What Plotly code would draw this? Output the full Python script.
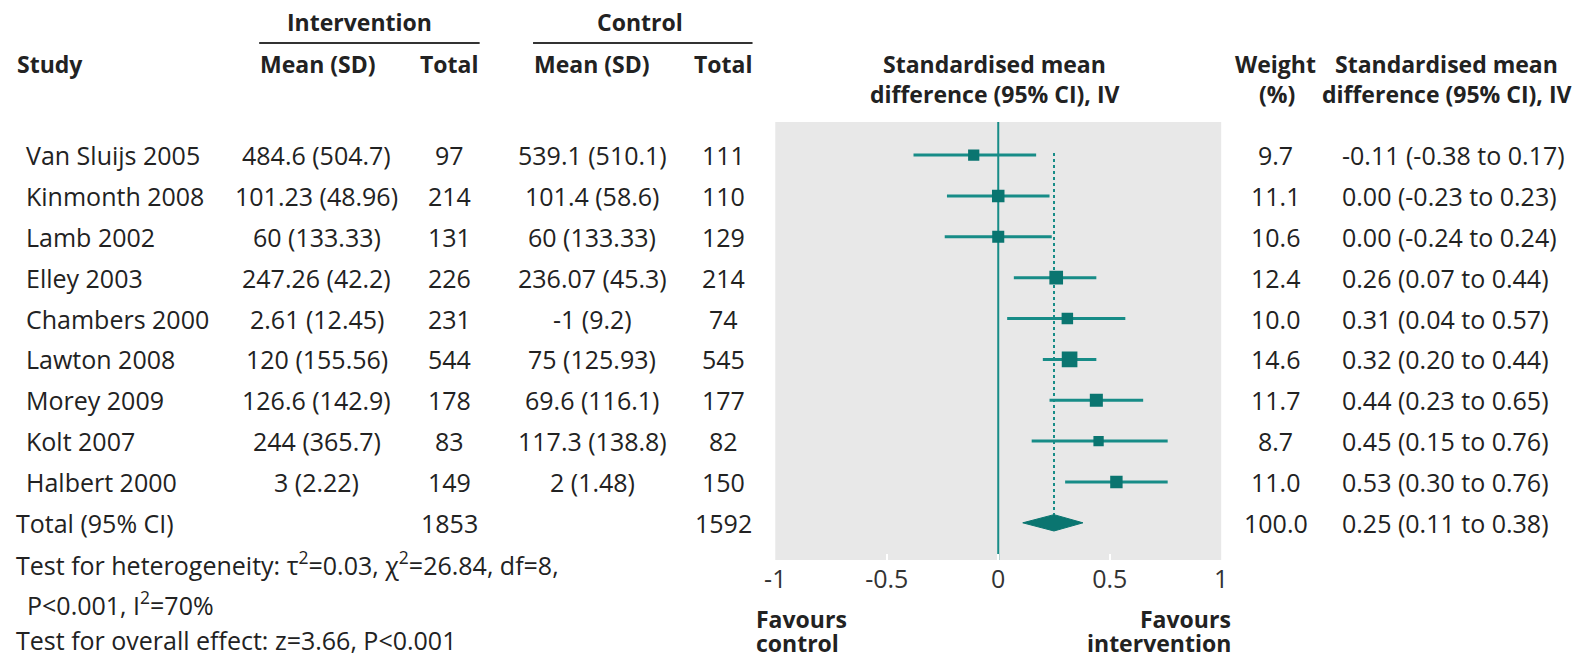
import plotly.graph_objects as go

W, H = 1596, 658

studies = ["Van Sluijs 2005", "Kinmonth 2008", "Lamb 2002", "Elley 2003", "Chambers 2000",
           "Lawton 2008", "Morey 2009", "Kolt 2007", "Halbert 2000"]
int_mean_sd = ["484.6 (504.7)", "101.23 (48.96)", "60 (133.33)", "247.26 (42.2)", "2.61 (12.45)",
               "120 (155.56)", "126.6 (142.9)", "244 (365.7)", "3 (2.22)"]
int_total = [97, 214, 131, 226, 231, 544, 178, 83, 149]
ctl_mean_sd = ["539.1 (510.1)", "101.4 (58.6)", "60 (133.33)", "236.07 (45.3)", "-1 (9.2)",
               "75 (125.93)", "69.6 (116.1)", "117.3 (138.8)", "2 (1.48)"]
ctl_total = [111, 110, 129, 214, 74, 545, 177, 82, 150]
weights = [9.7, 11.1, 10.6, 12.4, 10.0, 14.6, 11.7, 8.7, 11.0]
smd = [-0.11, 0.00, 0.00, 0.26, 0.31, 0.32, 0.44, 0.45, 0.53]
ci_low = [-0.38, -0.23, -0.24, 0.07, 0.04, 0.20, 0.23, 0.15, 0.30]
ci_high = [0.17, 0.23, 0.24, 0.44, 0.57, 0.44, 0.65, 0.76, 0.76]

total_int = 1853
total_ctl = 1592
total_weight = 100.0
pooled = 0.25
pooled_low = 0.11
pooled_high = 0.38

x_ticks = [-1, -0.5, 0, 0.5, 1]
x_tick_labels = ["-1", "-0.5", "0", "0.5", "1"]

TEAL = "#178c87"
TEAL_DARK = "#0a7570"
TXT = "#222222"
FONT = "Open Sans"
FS = 25
FSB = 23

rows = list(range(1, len(studies) + 1))
total_row = len(studies) + 1

fig = go.Figure()

# zero line
fig.add_trace(go.Scatter(x=[0, 0], y=[0.19, 10.91], mode="lines",
                         line=dict(color=TEAL, width=2), hoverinfo="skip", showlegend=False))
# pooled dashed line
fig.add_trace(go.Scatter(x=[pooled, pooled], y=[0.95, total_row - 0.2], mode="lines",
                         line=dict(color=TEAL, width=2, dash="dot"), hoverinfo="skip", showlegend=False))
# study estimates
fig.add_trace(go.Scatter(
    x=smd, y=rows, mode="markers",
    marker=dict(symbol="square", color=TEAL_DARK, opacity=1, size=[w * 0.9 + 2.5 for w in weights],
                line=dict(width=0)),
    error_x=dict(type="data", symmetric=False,
                 array=[h - m for h, m in zip(ci_high, smd)],
                 arrayminus=[m - l for m, l in zip(smd, ci_low)],
                 color=TEAL, thickness=3, width=0),
    showlegend=False))
# pooled diamond
fig.add_trace(go.Scatter(
    x=[pooled_low, pooled, pooled_high, pooled, pooled_low],
    y=[total_row, total_row - 0.2, total_row, total_row + 0.2, total_row],
    mode="lines", fill="toself", fillcolor=TEAL_DARK, line=dict(color=TEAL_DARK, width=1),
    showlegend=False))

ann = []


def px(x):
    return x / W


def py(y):
    return 1 - y / H


def txt(text, x, y, xanchor="center", bold=False, yref="paper", size=FS, color=TXT):
    ann.append(dict(text=f"<b>{text}</b>" if bold else text, x=px(x), xref="paper",
                    y=py(y) if yref == "paper" else y, yref=yref,
                    xanchor=xanchor, yanchor="middle", showarrow=False,
                    font=dict(family=FONT, size=size, color=color)))


# headers
txt("Intervention", 352, 22, bold=True, size=FSB)
txt("Control", 636, 22, bold=True, size=FSB)
txt("Study", 4, 64, xanchor="left", bold=True, size=FSB)
txt("Mean (SD)", 310, 64, bold=True, size=FSB)
txt("Total", 443, 64, bold=True, size=FSB)
txt("Mean (SD)", 588, 64, bold=True, size=FSB)
txt("Total", 720, 64, bold=True, size=FSB)
txt("Standardised mean", 995, 64, bold=True, size=FSB)
txt("difference (95% CI), IV", 995, 94, bold=True, size=FSB)
txt("Weight", 1279, 64, bold=True, size=FSB)
txt("(%)", 1280, 94, bold=True, size=FSB)
txt("Standardised mean", 1452, 64, bold=True, size=FSB)
txt("difference (95% CI), IV", 1452, 94, bold=True, size=FSB)

# rows
for i, r in enumerate(rows):
    txt(studies[i], 13, r, xanchor="left", yref="y")
    txt(int_mean_sd[i], 309, r, yref="y")
    txt(str(int_total[i]), 444, r, yref="y")
    txt(ctl_mean_sd[i], 588, r, yref="y")
    txt(str(ctl_total[i]), 721, r, yref="y")
    txt(f"{weights[i]:.1f}", 1279, r, yref="y")
    txt(f"{smd[i]:.2f} ({ci_low[i]:.2f} to {ci_high[i]:.2f})", 1344, r, xanchor="left", yref="y")

txt("Total (95% CI)", 3, total_row, xanchor="left", yref="y")
txt(str(total_int), 444, total_row, yref="y")
txt(str(total_ctl), 721, total_row, yref="y")
txt(f"{total_weight:.1f}", 1279, total_row, yref="y")
txt(f"{pooled:.2f} ({pooled_low:.2f} to {pooled_high:.2f})", 1344, total_row, xanchor="left", yref="y")

# footer
txt("Test for heterogeneity: τ<sup>2</sup>=0.03, χ<sup>2</sup>=26.84, df=8,", 3, 563, xanchor="left")
txt("P&lt;0.001, I<sup>2</sup>=70%", 14, 603, xanchor="left")
txt("Test for overall effect: z=3.66, P&lt;0.001", 3, 640, xanchor="left")
txt("Favours", 751, 619, xanchor="left", bold=True, size=FSB)
txt("control", 751, 643, xanchor="left", bold=True, size=FSB)
txt("Favours", 1236, 619, xanchor="right", bold=True, size=FSB)
txt("intervention", 1236, 643, xanchor="right", bold=True, size=FSB)

shapes = [
    dict(type="line", xref="paper", yref="paper", x0=px(251), x1=px(474), y0=py(43), y1=py(43),
         line=dict(color="#333333", width=2)),
    dict(type="line", xref="paper", yref="paper", x0=px(528), x1=px(750), y0=py(43), y1=py(43),
         line=dict(color="#333333", width=2)),
]

fig.update_layout(
    width=W, height=H, margin=dict(l=0, r=0, t=0, b=0),
    paper_bgcolor="white", plot_bgcolor="#e8e8e8",
    annotations=ann, shapes=shapes, showlegend=False,
    xaxis=dict(domain=[px(773), px(1224)], range=[-1, 1], tickvals=x_ticks, ticktext=x_tick_labels,
               showgrid=False, zeroline=False, ticks="inside", ticklen=6, tickcolor="white", tickwidth=2,
               ticklabelstandoff=2,
               tickfont=dict(family=FONT, size=FS, color="#333333"), fixedrange=True),
    yaxis=dict(domain=[py(560), py(122)], range=[10.91, 0.19], showgrid=False, zeroline=False,
               showticklabels=False, ticks="", fixedrange=True),
)

fig.write_html("out.html", config={"displayModeBar": False})

with open("out.html", "r", encoding="utf-8") as f:
    html = f.read()
html = html.replace("<body>", '<body style="margin:0;overflow:hidden">', 1)
with open("out.html", "w", encoding="utf-8") as f:
    f.write(html)
